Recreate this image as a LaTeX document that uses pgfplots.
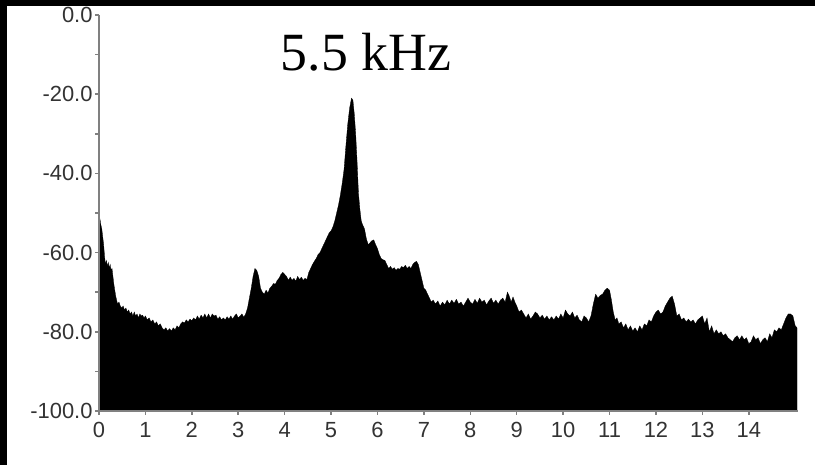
\documentclass[border=0pt]{standalone}
\usepackage{pgfplots}
\pgfplotsset{compat=1.18}
\usepackage{fontspec}
\setmainfont{Liberation Sans}
\newfontfamily\seriffont{Liberation Serif}
\pgfplotstableread{
x y
0.00 -100
0.00 -51
0.02 -51.5
0.04 -53
0.06 -54
0.08 -56
0.10 -58
0.12 -61
0.14 -63
0.16 -62
0.18 -63.5
0.20 -62.5
0.22 -64
0.24 -63
0.26 -64.5
0.28 -64
0.30 -66
0.32 -68
0.34 -69.5
0.36 -71
0.38 -72
0.40 -73
0.43 -72.5
0.46 -73.5
0.49 -74
0.52 -73.5
0.55 -74.5
0.58 -74
0.61 -75
0.64 -74.5
0.67 -75.5
0.70 -75
0.73 -76
0.76 -75
0.79 -76
0.82 -75.5
0.85 -76.5
0.88 -75.5
0.91 -76
0.94 -75.8
0.97 -76.5
1.00 -76
1.04 -77
1.08 -76.5
1.12 -77.5
1.16 -77
1.20 -78
1.24 -77.5
1.28 -78.5
1.32 -78
1.36 -79
1.40 -79.5
1.44 -79
1.48 -79.8
1.52 -79.2
1.56 -79.8
1.60 -79
1.64 -79.5
1.68 -78.5
1.72 -79
1.76 -78
1.80 -77.5
1.84 -77.8
1.88 -77
1.92 -77.5
1.96 -76.8
2.00 -77.2
2.04 -76.5
2.08 -77
2.12 -76
2.16 -76.8
2.20 -75.8
2.24 -76.5
2.28 -75.5
2.32 -76.5
2.36 -75.5
2.40 -76.5
2.44 -75.5
2.48 -76
2.52 -75.8
2.56 -76.8
2.60 -76.2
2.64 -77
2.68 -76.5
2.72 -77
2.76 -76.2
2.80 -76.8
2.84 -76
2.88 -76.8
2.92 -76
2.96 -75.5
3.00 -76.5
3.04 -76
3.08 -75.5
3.12 -76.3
3.16 -75.5
3.20 -74
3.24 -71.5
3.28 -69
3.32 -66
3.36 -64
3.40 -64.5
3.44 -66
3.48 -69
3.52 -70
3.56 -70.5
3.60 -69.5
3.64 -70.2
3.68 -69
3.72 -68.5
3.76 -67.8
3.80 -68
3.84 -67
3.88 -66.5
3.92 -65.5
3.96 -65
4.00 -65.5
4.04 -66
4.08 -67
4.12 -66.2
4.16 -67
4.20 -66.5
4.24 -67.2
4.28 -66
4.32 -66.8
4.36 -66.2
4.40 -67
4.44 -66.5
4.48 -66.8
4.52 -65
4.56 -64
4.60 -63
4.64 -62.2
4.68 -61.5
4.72 -60.5
4.76 -60
4.80 -59
4.84 -58
4.88 -57
4.92 -56
4.96 -55
5.00 -54.5
5.04 -53.5
5.08 -52
5.12 -50
5.16 -48
5.20 -45.5
5.24 -42.5
5.28 -39
5.32 -33
5.36 -27.5
5.40 -23.5
5.44 -21
5.47 -21.5
5.50 -25
5.53 -30
5.56 -37
5.59 -45
5.62 -49
5.65 -52
5.68 -53
5.72 -54
5.76 -56.5
5.80 -58
5.84 -57.5
5.88 -57
5.92 -56.8
5.96 -58
6.00 -59
6.04 -60.5
6.08 -61.5
6.12 -61.8
6.16 -62
6.20 -63
6.24 -64
6.28 -63.5
6.32 -64.2
6.36 -63.8
6.40 -64.5
6.44 -64
6.48 -64.2
6.52 -63.5
6.56 -63.8
6.60 -63.2
6.64 -64
6.68 -63.5
6.72 -64
6.76 -63
6.80 -62.5
6.84 -62.2
6.88 -63
6.92 -65
6.96 -67
7.00 -69
7.04 -69.5
7.08 -70.5
7.12 -71.5
7.16 -72.5
7.20 -72
7.25 -73
7.30 -72.2
7.35 -73.5
7.40 -72.5
7.45 -73.2
7.50 -72
7.55 -73
7.60 -72
7.65 -72.8
7.70 -71.8
7.75 -73
7.80 -72.5
7.85 -73.5
7.90 -72.5
7.95 -71.5
8.00 -72.5
8.05 -73
8.10 -71.8
8.15 -72.8
8.20 -71.5
8.25 -72.5
8.30 -72
8.35 -73.2
8.40 -72.2
8.45 -71.5
8.50 -72.8
8.55 -72
8.60 -73
8.65 -72
8.70 -71.5
8.75 -72.5
8.80 -70
8.84 -71
8.88 -72.5
8.92 -71.2
8.96 -72.5
9.00 -73.5
9.05 -75
9.10 -74.5
9.15 -75.5
9.20 -76.5
9.25 -75.5
9.30 -76.8
9.35 -76
9.40 -75
9.45 -75.5
9.50 -76.5
9.55 -75.8
9.60 -76.8
9.65 -76
9.70 -77
9.75 -76.2
9.80 -77
9.85 -76
9.90 -76.8
9.95 -75.5
10.00 -76.5
10.05 -74.5
10.10 -75.5
10.15 -76
10.20 -75
10.25 -76.5
10.30 -75.8
10.35 -77
10.40 -77.5
10.45 -76
10.50 -76.5
10.55 -77.5
10.60 -76
10.65 -73
10.70 -70.5
10.75 -71.5
10.80 -70.8
10.85 -70.5
10.90 -69.5
10.95 -69
11.00 -69.5
11.04 -72
11.08 -75
11.12 -77
11.16 -76.5
11.20 -78
11.25 -77.5
11.30 -79
11.35 -78
11.40 -79.5
11.45 -78.5
11.50 -79.8
11.55 -79
11.60 -80
11.65 -78.5
11.70 -79.5
11.75 -78
11.80 -78.5
11.85 -77
11.90 -77.5
11.95 -76
12.00 -75
12.05 -74.5
12.10 -75.5
12.15 -75
12.20 -73.5
12.25 -72.5
12.30 -71.5
12.35 -71
12.40 -73
12.45 -76
12.50 -75.5
12.55 -77
12.60 -76.5
12.65 -77.5
12.70 -76.8
12.75 -77.5
12.80 -77
12.85 -78
12.90 -77
12.95 -76.5
13.00 -76
13.05 -78
13.10 -76.5
13.15 -80
13.20 -78.5
13.25 -80.5
13.30 -79.5
13.35 -80.5
13.40 -80
13.45 -81
13.50 -80.5
13.55 -81.5
13.60 -82
13.65 -82.5
13.70 -81.5
13.75 -81
13.80 -82
13.85 -81
13.90 -82
13.95 -81.5
14.00 -83
14.05 -82.5
14.10 -81
14.15 -82
14.20 -81.5
14.25 -83
14.30 -82
14.35 -81.5
14.40 -82.5
14.45 -80.5
14.50 -81.5
14.55 -79.5
14.60 -80
14.65 -79
14.70 -79.5
14.75 -78
14.80 -76.5
14.85 -75.5
14.90 -75.5
14.95 -76
15.00 -78.5
15.04 -79
15.04 -100
}\spectrum
\begin{document}
\begin{tikzpicture}
\useasboundingbox (0,0) rectangle (815bp,465bp);
\fill[white] (0,0) rectangle (815bp,465bp);
\fill[black] (0,0) rectangle (7.3bp,465bp);
\fill[black] (0,459bp) rectangle (815bp,465bp);
\begin{axis}[
  at={(99bp,54bp)}, anchor=south west,
  scale only axis, width=699bp, height=396bp,
  xmin=0, xmax=15.06, ymin=-100, ymax=0,
  axis x line=bottom, axis y line=left,
  axis line style={-, draw=gray, line width=1.5bp},
  axis on top,
  xtick={0,1,...,14},
  xticklabels={0,1,2,3,4,5,6,7,8,9,10,11,12,13,14},
  ytick={-100,-80,-60,-40,-20,0},
  yticklabels={-100.0,-80.0,-60.0,-40.0,-20.0,0.0},
  minor ytick={-90,-70,-50,-30,-10},
  tick align=outside,
  major tick length=4bp, minor tick length=4bp,
  tick style={draw=gray, line width=1.5bp},
  ticklabel style={font=\fontsize{22}{26}\selectfont, text=black!80},
  xticklabel style={yshift=-4bp},
  yticklabel style={xshift=1bp},
]
\addplot[fill=black, draw=black, line width=0.3bp] table[x=x, y=y] {\spectrum};
\end{axis}
\node[font=\seriffont\fontsize{54}{60}\selectfont, anchor=base] at (366bp,394bp) {5.5 kHz};
\end{tikzpicture}
\end{document}
